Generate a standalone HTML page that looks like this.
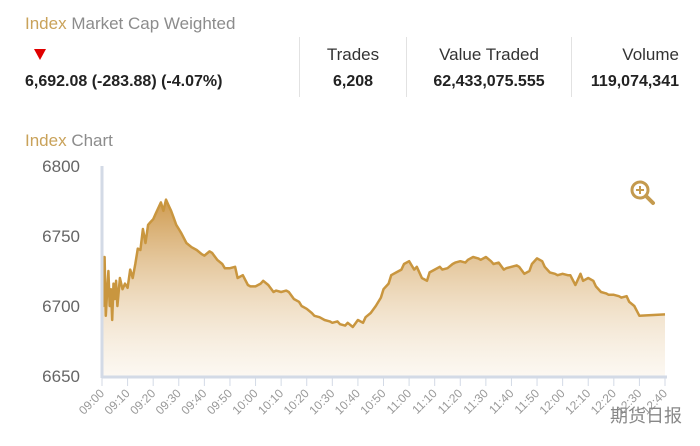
<!DOCTYPE html>
<html><head><meta charset="utf-8"><style>
body{margin:0;background:#fff;width:700px;height:446px;overflow:hidden;font-family:"Liberation Sans","Noto Sans CJK SC",sans-serif;position:relative}
.a{position:absolute;white-space:nowrap}
.g{color:#c9a25a}.gr{color:#8c8c8c}
.lbl{font-size:17px;color:#333;top:45px}
.val{font-size:16px;font-weight:bold;color:#222;top:73px}
.div{position:absolute;top:37px;width:1px;height:60px;background:#e2e2e2}
</style></head><body>
<div class="a" style="left:25px;top:14px;font-size:17px"><span class="g">Index</span> <span class="gr">Market Cap Weighted</span></div>
<div class="a" style="left:34px;top:49px;width:0;height:0;border-left:6px solid transparent;border-right:6px solid transparent;border-top:11px solid #e00000"></div>
<div class="a val" style="left:25px">6,692.08 (-283.88) (-4.07%)</div>
<div class="div" style="left:299px"></div>
<div class="div" style="left:406px"></div>
<div class="div" style="left:571px"></div>
<div class="a lbl" style="left:353px;transform:translateX(-50%)">Trades</div>
<div class="a val" style="left:353px;transform:translateX(-50%)">6,208</div>
<div class="a lbl" style="left:489px;transform:translateX(-50%)">Value Traded</div>
<div class="a val" style="left:489px;transform:translateX(-50%)">62,433,075.555</div>
<div class="a lbl" style="right:21px">Volume</div>
<div class="a val" style="right:21px">119,074,341</div>
<div class="a" style="left:25px;top:131px;font-size:17px"><span class="g">Index</span> <span class="gr">Chart</span></div>
<svg id="c" class="a" style="left:0;top:0" width="700" height="446">
<defs><linearGradient id="gf" x1="0" y1="0" x2="0" y2="1"><stop offset="0" stop-color="#cf9b50" stop-opacity="1"/><stop offset="1" stop-color="#f6ead8" stop-opacity="0.35"/></linearGradient></defs>
<g transform="translate(640,190)"><circle r="8" fill="none" stroke="#c49a4e" stroke-width="3"/><path d="M-4 0H4M0-4V4" stroke="#c49a4e" stroke-width="2"/><path d="M6 6L13 13" stroke="#c49a4e" stroke-width="4" stroke-linecap="round"/></g>
</svg>
<div class="a" style="left:610px;top:402px;font-size:18px;color:#888">期货日报</div>
<script>
const times=[0,0.5,1,1.5,2,2.5,3,3.5,4,4.5,5,5.5,6,7,8,9,10,11,12,13,14,15,16,17,18,19,20,21,22,23,24,25,26,27,28,29,30,31,33,35,37,39,40,42,43,45,47,48,50,52,53,55,57,58,60,62,63,65,67,68,70,72,73,75,77,78,80,82,83,85,87,89,90,92,93,95,96,98,100,102,103,105,107,109,110,112,113,115,117,118,120,122,123,125,127,128,130,132,133,135,137,138,140,142,143,145,147,148,150,152,153,155,157,158,160,162,163,165,167,168,170,172,173,175,177,178,180,182,183,185,187,188,190,192,193,195,197,198,200,202,203,205,206,208,210,220];
const values=[6747,6700,6735,6693,6710,6725,6700,6712,6690,6716,6705,6718,6700,6720,6712,6716,6713,6726,6720,6730,6741,6740,6755,6745,6758,6760,6762,6766,6770,6774,6768,6776,6772,6768,6763,6758,6755,6752,6745,6742,6740,6737,6736,6739,6738,6733,6730,6727,6727,6728,6720,6722,6715,6714,6714,6716,6718,6715,6710,6711,6710,6711,6710,6705,6703,6700,6698,6695,6693,6692,6690,6689,6688,6689,6687,6686,6688,6685,6690,6688,6692,6695,6700,6706,6712,6716,6722,6724,6726,6730,6732,6726,6728,6720,6718,6724,6726,6728,6726,6727,6730,6731,6732,6731,6733,6735,6734,6733,6735,6732,6730,6731,6726,6727,6728,6729,6728,6723,6725,6730,6734,6732,6728,6724,6723,6722,6723,6722,6722,6715,6723,6718,6720,6718,6714,6710,6709,6708,6708,6707,6706,6707,6703,6700,6693,6694,6691];
const yTicks=[6650,6700,6750,6800];
const xLabels=["09:00","09:10","09:20","09:30","09:40","09:50","10:00","10:10","10:20","10:30","10:40","10:50","11:00","11:10","11:20","11:30","11:40","11:50","12:00","12:10","12:20","12:30","12:40"];
const svg=document.getElementById('c');const NS='http://www.w3.org/2000/svg';
const x0=102,x1=665,yb=376,yt=166,vmin=6650,vmax=6800,tmax=220;
const X=t=>x0+t/tmax*(x1-x0), Y=v=>yb-(v-vmin)/(vmax-vmin)*(yb-yt);
function mk(tag,attrs){const e=document.createElementNS(NS,tag);for(const k in attrs)e.setAttribute(k,attrs[k]);svg.appendChild(e);return e;}
let d=times.map((t,i)=>(i?'L':'M')+X(t).toFixed(1)+' '+Y(values[i]).toFixed(1)).join('');
const area=mk('path',{d:d+`L${X(tmax)} ${yb}L${x0} ${yb}Z`,fill:'url(#gf)'});


const line=mk('path',{d:d,fill:'none',stroke:'#c9963f','stroke-width':2.5,'stroke-linejoin':'round'});


const ya=mk('line',{x1:x0,x2:x0,y1:yt,y2:yb+2,stroke:'#d3dae6','stroke-width':3});


const xa=mk('line',{x1:x0,x2:x1+2,y1:yb+1,y2:yb+1,stroke:'#d3dae6','stroke-width':3});


yTicks.forEach(v=>{const t=mk('text',{x:80,y:Y(v)+6,'text-anchor':'end','font-size':17,fill:'#666','font-family':'Liberation Sans'});t.textContent=v;

});
xLabels.forEach((s,i)=>{const x=X(i*10);const l=mk('line',{x1:x,x2:x,y1:yb+2,y2:yb+10,stroke:'#d3dae6','stroke-width':1});


const t=mk('text',{x:x+3,y:yb+18,'text-anchor':'end','font-size':12,fill:'#999','font-family':'Liberation Sans',transform:`rotate(-45 ${x+3} ${yb+18})`});t.textContent=s;

});
</script>
</body></html>
